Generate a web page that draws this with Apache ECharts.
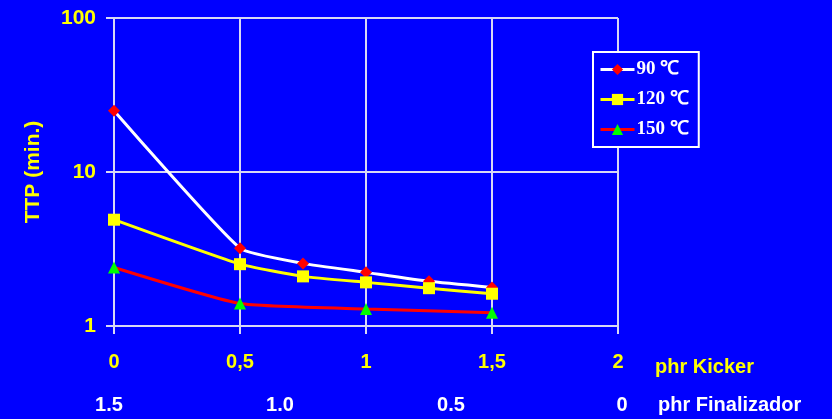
<!DOCTYPE html>
<html>
<head>
<meta charset="utf-8">
<script src="https://cdn.jsdelivr.net/npm/echarts@6/dist/echarts.min.js"></script>
<style>
html,body{margin:0;padding:0;background:#0000ff;}
#chart{width:832px;height:419px;}
</style>
</head>
<body>
<div id="chart"></div>
<script>
// phr Kicker positions of the measurements
const kicker90 = [0, 0.5, 0.75, 1, 1.25, 1.5];
const ttp90 = [25, 3.2, 2.55, 2.23, 1.95, 1.78];
const kicker120 = [0, 0.5, 0.75, 1, 1.25, 1.5];
const ttp120 = [4.9, 2.52, 2.1, 1.92, 1.76, 1.62];
const kicker150 = [0, 0.5, 1, 1.5];
const ttp150 = [2.4, 1.4, 1.29, 1.22];
const seriesNames = ['90 ℃', '120 ℃', '150 ℃'];
const kickerTicks = ['0', '0,5', '1', '1,5', '2'];
const finalizadorTicks = ['1.5', '1.0', '0.5', '0'];

const pairs = (xs, ys) => xs.map((x, i) => [x, ys[i]]);
const FONT = 'Liberation Sans, Arial, sans-serif';
const gridColor = '#d8d8f4';

const chart = echarts.init(document.getElementById('chart'));
chart.setOption({
  backgroundColor: '#0000ff',
  animation: false,
  grid: [
    {left: 114, right: 214, top: 18, bottom: 93, containLabel: false, outerBoundsMode: 'none'},
    {left: 109, right: 210, top: 18, bottom: 93, containLabel: false, outerBoundsMode: 'none'}
  ],
  legend: {
    orient: 'vertical',
    left: 593, top: 52,
    padding: [8, 10, 8, 6],
    itemGap: 11,
    itemWidth: 34, itemHeight: 14,
    borderColor: '#ffffff', borderWidth: 2,
    backgroundColor: '#0000ff',
    lineStyle: {width: 3},
    textStyle: {color: '#ffffff', fontFamily: 'Liberation Serif, Times New Roman, serif', fontWeight: 'bold', fontSize: 19, padding: [0,0,0,-3]},
    data: seriesNames
  },
  xAxis: [
    {
      gridIndex: 0, type: 'value', min: 0, max: 2, interval: 0.5,
      axisLine: {show: true, onZero: false, lineStyle: {color: gridColor, width: 2}},
      axisTick: {show: true, length: 8, lineStyle: {color: gridColor, width: 2}},
      splitLine: {show: true, lineStyle: {color: gridColor, width: 2}},
      axisLabel: {
        color: '#ffff00', fontFamily: FONT, fontWeight: 'bold', fontSize: 20, margin: 26,
        formatter: v => kickerTicks[Math.round(v / 0.5)]
      },
      name: 'phr Kicker', nameLocation: 'end', nameGap: 37,
      nameTextStyle: {color: '#ffff00', fontFamily: FONT, fontWeight: 'bold', fontSize: 20, verticalAlign: 'top', padding: [31, 0, 0, 0]}
    },
    {
      gridIndex: 1, type: 'value', min: 0, max: 1.5, interval: 0.5, inverse: true,
      axisLine: {show: false}, axisTick: {show: false}, splitLine: {show: false},
      axisLabel: {
        color: '#ffffff', fontFamily: FONT, fontWeight: 'bold', fontSize: 20, margin: 69,
        formatter: v => finalizadorTicks[3 - Math.round(v / 0.5)]
      },
      name: 'phr Finalizador', nameLocation: 'start', nameGap: 36,
      nameTextStyle: {color: '#ffffff', fontFamily: FONT, fontWeight: 'bold', fontSize: 20, verticalAlign: 'top', padding: [69, 0, 0, 0]}
    }
  ],
  yAxis: [
    {
      gridIndex: 0, type: 'log', logBase: 10, min: 1, max: 100,
      axisLine: {show: true, lineStyle: {color: gridColor, width: 2}},
      axisTick: {show: true, length: 8, lineStyle: {color: gridColor, width: 2}},
      minorTick: {show: false},
      splitLine: {show: true, lineStyle: {color: gridColor, width: 2}},
      axisLabel: {color: '#ffff00', fontFamily: FONT, fontWeight: 'bold', fontSize: 21, margin: 18},
      name: 'TTP (min.)', nameLocation: 'middle', nameRotate: 90, nameGap: 70,
      nameTextStyle: {color: '#ffff00', fontFamily: FONT, fontWeight: 'bold', fontSize: 21}
    },
    {gridIndex: 1, type: 'value', min: 0, max: 1, show: false}
  ],
  series: [
    {
      name: seriesNames[0], type: 'line', xAxisIndex: 0, yAxisIndex: 0,
      data: pairs(kicker90, ttp90), smooth: 0.15,
      lineStyle: {color: '#ffffff', width: 3},
      symbol: 'diamond', symbolSize: 12,
      itemStyle: {color: '#ff0000'}
    },
    {
      name: seriesNames[1], type: 'line', xAxisIndex: 0, yAxisIndex: 0,
      data: pairs(kicker120, ttp120), smooth: 0.15,
      lineStyle: {color: '#ffff00', width: 3},
      symbol: 'rect', symbolSize: 12,
      itemStyle: {color: '#ffff00'}
    },
    {
      name: seriesNames[2], type: 'line', xAxisIndex: 0, yAxisIndex: 0,
      data: pairs(kicker150, ttp150), smooth: 0.15,
      lineStyle: {color: '#ff0000', width: 3},
      symbol: 'triangle', symbolSize: 12,
      itemStyle: {color: '#00ff00'}
    }
  ]
});
</script>
</body>
</html>
